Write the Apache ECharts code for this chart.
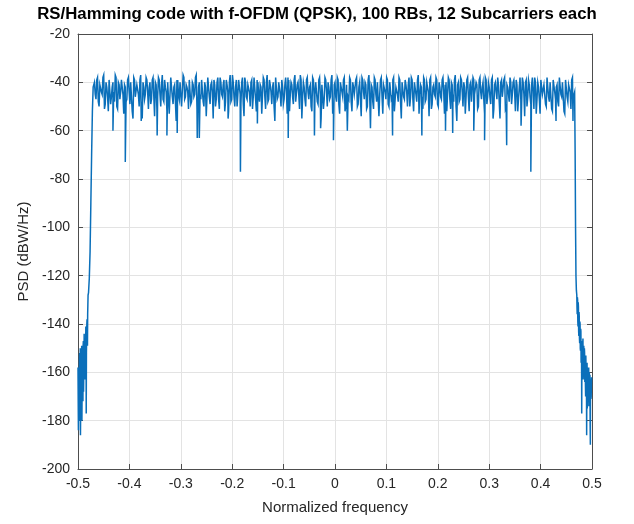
<!DOCTYPE html>
<html><head><meta charset="utf-8">
<script src="https://cdn.jsdelivr.net/npm/echarts@6/dist/echarts.min.js"></script>
<style>html,body{margin:0;padding:0;background:#fff}#c{width:634px;height:524px}</style>
</head><body><div id="c"></div>
<script>
const titleText = 'RS/Hamming code with f-OFDM (QPSK), 100 RBs, 12 Subcarriers each';
const xName = 'Normalized frequency';
const yName = 'PSD (dBW/Hz)';
const xTicks = [-0.5,-0.4,-0.3,-0.2,-0.1,0,0.1,0.2,0.3,0.4,0.5];
const yTicks = [-200,-180,-160,-140,-120,-100,-80,-60,-40,-20];

// left out-of-band skirt (two interleaved uniform frequency grids)
const leftStart = -0.5, leftStep = 0.0008;
const leftV = [-158,-184,-163,-176,-152,-171,-186,-156,-168,-149,-166,-153,-172,-147,-161,-144,-159,-150,-162,-141,-177,-146,-138,-149,-132];
const leftStart2 = -0.4996;
const leftV2 = [-172,-160,-180,-155,-166,-150,-175,-162,-158,-180,-154,-164,-149,-168,-155,-150,-163,-146,-156,-143,-152,-140,-147,-136,-128];
// steep rising edge
const riseF = [-0.4795,-0.478,-0.4765,-0.475,-0.4735,-0.472,-0.4705];
const riseV = [-127,-121,-110,-90,-70,-52,-42];
// in-band PSD (two interleaved uniform frequency grids)
const bandStart = -0.468, bandStep = 0.003;
const bandV = [
-40,-47,-38,-50,-41,-45,-37,-49,-42,-52,-39,-46,-40,-48,-38,-51,-41,-44,-39,-53,
-42,-47,-38,-49,-40,-55,-39,-46,-41,-50,-37,-48,-42,-45,-39,-51,-40,-47,-38,-54,
-41,-46,-39,-50,-37,-48,-42,-52,-40,-45,-38,-49,-41,-56,-39,-47,-40,-50,-38,-46,
-42,-51,-39,-48,-41,-45,-37,-53,-40,-47,-39,-50,-42,-46,-38,-49,-40,-55,-41,-47,
-38,-51,-40,-46,-39,-48,-41,-52,-37,-47,-40,-50,-39,-45,-42,-49,-38,-54,-40,-47,
-41,-50,-39,-46,-38,-52,-40,-48,-42,-45,-39,-51,-37,-47,-41,-49,-40,-56,-38,-46,
-40,-50,-42,-47,-38,-53,-39,-45,-41,-49,-37,-48,-40,-51,-39,-46,-42,-50,-38,-47,
-41,-52,-39,-45,-40,-49,-38,-55,-41,-47,-39,-50,-42,-46,-37,-51,-40,-48,-39,-53,
-40,-46,-38,-50,-41,-47,-39,-52,-42,-45,-38,-49,-40,-54,-39,-47,-41,-50,-37,-46,
-42,-51,-39,-48,-40,-45,-38,-53,-41,-47,-39,-50,-40,-46,-38,-52,-42,-48,-39,-55,
-40,-47,-41,-50,-38,-46,-39,-52,-40,-48,-37,-45,-42,-51,-39,-47,-40,-54,-38,-49,
-41,-46,-39,-50,-42,-47,-38,-53,-40,-45,-39,-51,-41,-48,-37,-56,-40,-47,-39,-50,
-42,-46,-38,-52,-40,-48,-39,-45,-41,-50,-38,-47,-40,-53,-39,-46,-42,-49,-38,-51,
-40,-47,-41,-55,-39,-46,-38,-50,-42,-48,-40,-45,-39,-52,-41,-47,-38,-50,-40,-54,
-39,-46,-41,-49,-38,-51,-40,-47,-42,-53,-39,-45,-41,-50,-38,-48,-40,-52,-39,-47,
-41,-50,-38,-46,-40,-53,-39,-48,-41,-51,-38,-45
];
const bandStart2 = -0.4665;
const bandV2 = [
-45,-39,-48,-41,-44,-38,-51,-40,-46,-39,-49,-42,-44,-37,-50,-40,-47,-39,-45,-41,
-48,-39,-44,-40,-52,-38,-46,-41,-45,-39,-50,-40,-47,-38,-44,-42,-49,-39,-46,-40,
-51,-38,-45,-41,-47,-39,-44,-40,-53,-38,-46,-42,-48,-39,-45,-40,-50,-37,-47,-41,
-44,-39,-49,-40,-46,-38,-51,-42,-45,-39,-48,-40,-54,-38,-46,-41,-44,-39,-50,-40,
-47,-38,-45,-41,-52,-39,-44,-40,-48,-37,-46,-42,-50,-39,-45,-40,-49,-38,-46,-41,
-44,-40,-51,-38,-47,-39,-45,-41,-53,-38,-46,-40,-48,-39,-44,-42,-50,-38,-47,-40,
-45,-39,-49,-41,-44,-38,-52,-40,-46,-39,-48,-41,-45,-37,-55,-40,-47,-39,-44,-42,
-50,-38,-46,-40,-48,-39,-45,-41,-51,-38,-44,-40,-47,-39,-53,-41,-46,-38,-49,-40,
-44,-39,-52,-41,-46,-38,-48,-40,-45,-39,-50,-42,-47,-38,-44,-40,-51,-39,-46,-41,
-48,-38,-45,-40,-54,-39,-46,-41,-44,-38,-49,-40,-47,-39,-52,-42,-45,-38,-48,-40,
-46,-39,-44,-41,-50,-38,-47,-40,-45,-39,-53,-41,-46,-38,-48,-40,-44,-39,-51,-42,
-45,-38,-49,-40,-46,-39,-44,-41,-52,-38,-47,-40,-45,-39,-50,-41,-48,-38,-44,-40,
-53,-39,-46,-41,-48,-38,-45,-40,-51,-39,-44,-42,-47,-38,-49,-40,-46,-39,-55,-41,
-44,-38,-48,-40,-46,-39,-51,-41,-45,-38,-49,-40,-44,-39,-52,-42,-47,-38,-45,-40,
-50,-39,-46,-41,-44,-38,-53,-40,-47,-39,-45,-41,-49,-38,-46,-40,-51,-39,-44,-42,
-48,-38,-45,-40,-52,-39,-46,-41,-44,-39,-47
];
// deep in-band notches
const dipF = [-0.432,-0.408,-0.377,-0.375,-0.346,-0.327,-0.307,-0.268,-0.264,-0.208,-0.184,-0.151,-0.116,-0.091,-0.040,-0.028,-0.003,0.024,0.069,0.112,0.169,0.215,0.229,0.270,0.291,0.334,0.362,0.381,0.430,0.463];
const dipV = [-60,-73,-56,-55,-62,-62,-61,-63,-63,-55,-77,-57,-56,-63,-62,-59,-64,-60,-59,-62,-62,-60,-61,-60,-64,-66,-58,-77,-56,-56];
// steep falling edge
const fallF = [0.4662,0.4672,0.468,0.4688,0.4696];
const fallV = [-44,-70,-100,-120,-126];
// right out-of-band skirt (two interleaved uniform frequency grids)
const rightStart = 0.4704, rightStep = 0.0008;
const rightV = [-128,-136,-130,-141,-133,-145,-137,-148,-140,-151,-143,-154,-177,-150,-157,-146,-160,-149,-162,-152,-158,-165,-153,-167,-186,-156,-169,-160,-171,-158,-166,-173,-161,-190,-164,-170,-162];
const rightStart2 = 0.4708;
const rightV2 = [-133,-129,-139,-131,-143,-135,-146,-139,-150,-142,-156,-147,-152,-160,-148,-163,-155,-158,-150,-164,-156,-170,-159,-163,-166,-175,-158,-168,-162,-174,-160,-167,-182,-163,-171,-165];

const pts = [];
leftV.forEach((v,i)=>pts.push([leftStart+i*leftStep, v]));
leftV2.forEach((v,i)=>pts.push([leftStart2+i*leftStep, v]));
riseF.forEach((f,i)=>pts.push([f, riseV[i]]));
bandV.forEach((v,i)=>pts.push([bandStart+i*bandStep, v]));
bandV2.forEach((v,i)=>pts.push([bandStart2+i*bandStep, v]));
dipF.forEach((f,i)=>pts.push([f, dipV[i]]));
fallF.forEach((f,i)=>pts.push([f, fallV[i]]));
rightV.forEach((v,i)=>pts.push([rightStart+i*rightStep, v]));
rightV2.forEach((v,i)=>pts.push([rightStart2+i*rightStep, v]));
pts.sort((a,b)=>a[0]-b[0]);

const FONT = 'Liberation Sans';
const axisCol = '#4d4d4d';
const chart = echarts.init(document.getElementById('c'), null, {renderer:'canvas'});
const fmtX = v => { const r = Math.round(v*10)/10; return r === 0 ? '0' : String(r); };
chart.setOption({
  animation: false,
  backgroundColor: '#fff',
  title: { text: titleText, left: 'center', top: 1,
    textStyle: { fontFamily: FONT, fontSize: 16.8, fontWeight: 'bold', color: '#000' } },
  grid: { left: 78, right: 42, top: 34, bottom: 55 },
  xAxis: [{
    type: 'value', min: xTicks[0], max: xTicks[xTicks.length-1], interval: 0.1,
    name: xName, nameLocation: 'middle', nameGap: 31,
    nameTextStyle: { fontFamily: FONT, fontSize: 15, color: '#262626' },
    axisLine: { show: true, onZero: false, lineStyle: { color: axisCol, width: 1 } },
    axisTick: { show: true, inside: true, length: 5, lineStyle: { color: axisCol } },
    axisLabel: { fontFamily: FONT, fontSize: 14, color: '#262626', margin: 8, formatter: fmtX },
    splitLine: { show: true, lineStyle: { color: '#e3e3e3', width: 1 } }
  },{
    type: 'value', position: 'top', min: -0.5, max: 0.5, interval: 0.1,
    axisLine: { show: true, onZero: false, lineStyle: { color: axisCol, width: 1 } },
    axisTick: { show: true, inside: true, length: 5, lineStyle: { color: axisCol } },
    axisLabel: { show: false }, splitLine: { show: false }
  }],
  yAxis: [{
    type: 'value', min: yTicks[0], max: yTicks[yTicks.length-1], interval: 20,
    name: yName, nameLocation: 'middle', nameGap: 46,
    nameTextStyle: { fontFamily: FONT, fontSize: 15, color: '#262626' },
    axisLine: { show: true, onZero: false, lineStyle: { color: axisCol, width: 1 } },
    axisTick: { show: true, inside: true, length: 5, lineStyle: { color: axisCol } },
    axisLabel: { fontFamily: FONT, fontSize: 14, color: '#262626', margin: 8 },
    splitLine: { show: true, lineStyle: { color: '#e3e3e3', width: 1 } }
  },{
    type: 'value', position: 'right', min: -200, max: -20, interval: 20,
    axisLine: { show: true, onZero: false, lineStyle: { color: axisCol, width: 1 } },
    axisTick: { show: true, inside: true, length: 5, lineStyle: { color: axisCol } },
    axisLabel: { show: false }, splitLine: { show: false }
  }],
  series: [{
    type: 'line', data: pts, xAxisIndex: 0, yAxisIndex: 0,
    showSymbol: false, symbol: 'none', sampling: null,
    lineStyle: { color: '#0a6fba', width: 1.5, join: 'miter' }
  }]
});
</script></body></html>
